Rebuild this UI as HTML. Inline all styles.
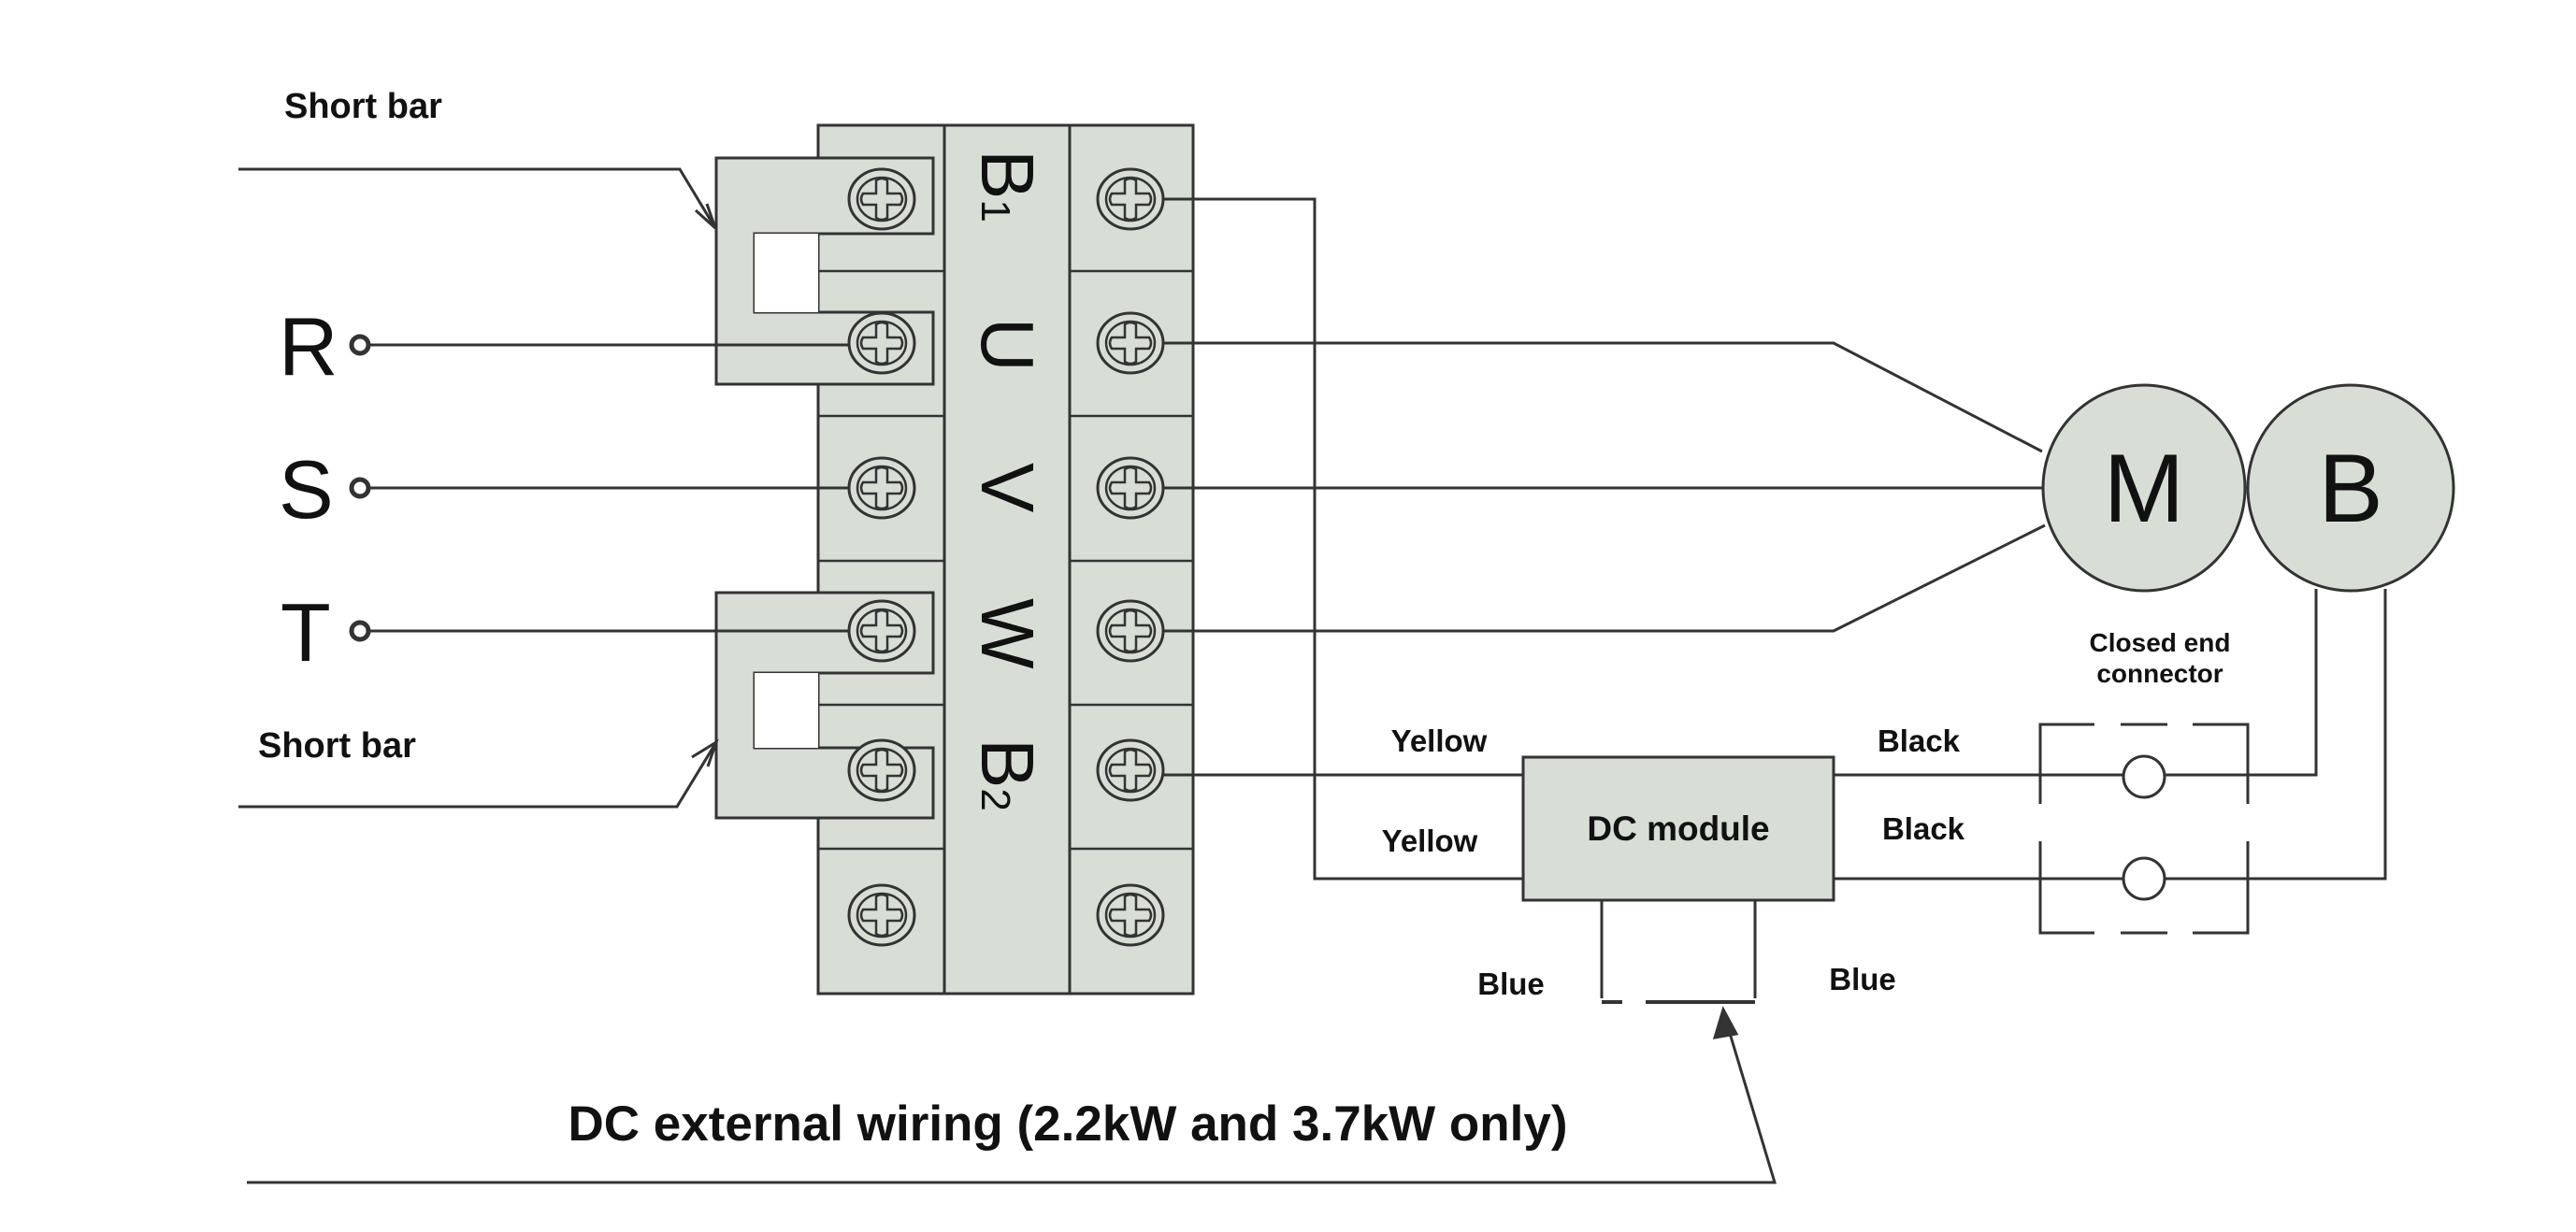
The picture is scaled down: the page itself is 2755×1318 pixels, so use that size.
<!DOCTYPE html>
<html><head><meta charset="utf-8"><style>
html,body{margin:0;padding:0;background:#fff;}
svg{display:block;}
text{font-family:"Liberation Sans",sans-serif;fill:#111;}
.b{font-weight:bold;}
</style></head><body>
<svg width="2755" height="1318" viewBox="0 0 2755 1318" xmlns="http://www.w3.org/2000/svg">
<defs>
<g id="sc">
<ellipse cx="0" cy="0" rx="35" ry="32" fill="#d8ded6" stroke="#333" stroke-width="3"/>
<ellipse cx="0" cy="0" rx="26" ry="23" fill="none" stroke="#333" stroke-width="2.5"/>
<path d="M-6,-20 Q0,-24 6,-20 L6,-6 L20,-6 Q24,0 20,6 L6,6 L6,20 Q0,24 -6,20 L-6,6 L-20,6 Q-24,0 -20,-6 L-6,-6 Z" fill="none" stroke="#333" stroke-width="2.5"/>
</g>
</defs>
<g stroke="#333" stroke-width="3" fill="none">
<rect x="875" y="134" width="401" height="929" fill="#d8ded6"/>
<line x1="1010" y1="134" x2="1010" y2="1063"/>
<line x1="1144" y1="134" x2="1144" y2="1063"/>
<g stroke-width="2.5">
<line x1="875" y1="290" x2="1010" y2="290"/><line x1="875" y1="445" x2="1010" y2="445"/><line x1="875" y1="600" x2="1010" y2="600"/><line x1="875" y1="754" x2="1010" y2="754"/><line x1="875" y1="908" x2="1010" y2="908"/>
<line x1="1144" y1="290" x2="1276" y2="290"/><line x1="1144" y1="445" x2="1276" y2="445"/><line x1="1144" y1="600" x2="1276" y2="600"/><line x1="1144" y1="754" x2="1276" y2="754"/><line x1="1144" y1="908" x2="1276" y2="908"/>
</g>
<path d="M766,169 H998 V250 H807 V334 H998 V411 H766 Z" fill="#d8ded6"/>
<rect x="807" y="250" width="68" height="84" fill="#fff" stroke="none"/>
<path d="M766,634 H998 V720 H807 V800 H998 V875 H766 Z" fill="#d8ded6"/>
<rect x="807" y="720" width="68" height="80" fill="#fff" stroke="none"/>
<line x1="395" y1="369" x2="943" y2="369"/>
<line x1="395" y1="522" x2="943" y2="522"/>
<line x1="395" y1="675" x2="943" y2="675"/>
<path d="M255,181 H727 L765,244"/>
<path d="M744,225 L765,244 L756,218" fill="none"/>
<path d="M255,863 H724 L766,794"/>
<path d="M740,810 L766,794 L757,820" fill="none"/>
<path d="M1209,213 H1406 V940 H1629"/>
<path d="M1209,367 H1961 L2184,483"/>
<line x1="1209" y1="522" x2="2184" y2="522"/>
<path d="M1209,675 H1961 L2187,562"/>
<line x1="1209" y1="829" x2="1629" y2="829"/>
<path d="M1961,829 H2270 M2316,829 H2477 V630"/>
<path d="M1961,940 H2270 M2316,940 H2551 V630"/>
<rect x="1629" y="810" width="332" height="153" fill="#d8ded6"/>
<path d="M1713,963 V1068 M1877,963 V1068"/>
<path d="M1713,1072 H1735 M1760,1072 H1877" stroke-width="4"/>
<path d="M264,1265 H1898 L1843,1082"/>
<path d="M1834,1110 L1843,1080 L1857,1106 Z" fill="#333"/>
<ellipse cx="2293" cy="522" rx="108" ry="110" fill="#d8ded6"/>
<ellipse cx="2514" cy="522" rx="110" ry="110" fill="#d8ded6"/>
<path d="M2240,775 H2182 V860 M2182,900 V998 H2240 M2345,775 H2404 V860 M2404,900 V998 H2345 M2268,775 H2318 M2268,998 H2318"/>
<circle cx="2293" cy="831" r="22" fill="#fff"/>
<circle cx="2293" cy="940" r="22" fill="#fff"/>
<circle cx="385" cy="369" r="9" stroke-width="5" fill="#fff"/>
<circle cx="385" cy="522" r="9" stroke-width="5" fill="#fff"/>
<circle cx="385" cy="675" r="9" stroke-width="5" fill="#fff"/>
</g>
<use href="#sc" x="943" y="213"/><use href="#sc" x="943" y="367"/><use href="#sc" x="943" y="522"/><use href="#sc" x="943" y="675"/><use href="#sc" x="943" y="824"/><use href="#sc" x="943" y="979"/>
<use href="#sc" x="1209" y="213"/><use href="#sc" x="1209" y="367"/><use href="#sc" x="1209" y="522"/><use href="#sc" x="1209" y="675"/><use href="#sc" x="1209" y="824"/><use href="#sc" x="1209" y="979"/>
<g font-size="80">
<text transform="translate(1050,160) rotate(90)">B<tspan font-size="44">1</tspan></text>
<text transform="translate(1050,340) rotate(90)">U</text>
<text transform="translate(1050,495) rotate(90)">V</text>
<text transform="translate(1050,640) rotate(90)">W</text>
<text transform="translate(1050,790) rotate(90)">B<tspan font-size="44">2</tspan></text>
</g>
<g font-size="88">
<text x="298" y="401">R</text><text x="298" y="554">S</text><text x="300" y="707">T</text>
</g>
<text class="b" x="304" y="126" font-size="38">Short bar</text>
<text class="b" x="276" y="810" font-size="38">Short bar</text>
<g class="b" font-size="33" text-anchor="middle">
<text class="b" x="1539" y="804">Yellow</text>
<text class="b" x="1529" y="911">Yellow</text>
<text class="b" x="2052" y="804">Black</text>
<text class="b" x="2057" y="898">Black</text>
<text class="b" x="1616" y="1064">Blue</text>
<text class="b" x="1992" y="1059">Blue</text>
<text class="b" x="2310" y="697" font-size="28">Closed end</text>
<text class="b" x="2310" y="730" font-size="28">connector</text>
<text class="b" x="1795" y="899" font-size="37">DC module</text>
<text class="b" x="1142" y="1220" font-size="53">DC external wiring (2.2kW and 3.7kW only)</text>
</g>
<text x="2293" y="558" font-size="104" text-anchor="middle">M</text>
<text x="2514" y="558" font-size="104" text-anchor="middle">B</text>
</svg>
</body></html>
